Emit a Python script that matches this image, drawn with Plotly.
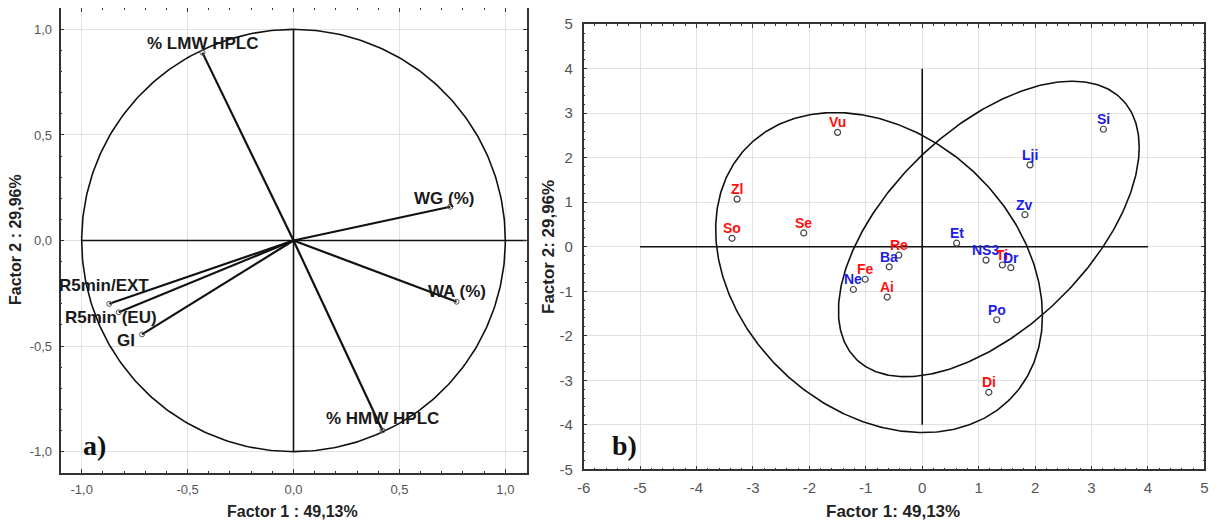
import numpy as np
import plotly.graph_objects as go

# ---------------- data: panel a) loadings ----------------
load_names = ["% LMW HPLC", "WG (%)", "WA (%)", "% HMW HPLC", "R5min/EXT", "R5min (EU)", "GI"]
load_f1 = [-0.43, 0.74, 0.77, 0.42, -0.87, -0.825, -0.715]
load_f2 = [0.89, 0.16, -0.29, -0.90, -0.30, -0.34, -0.445]

# ---------------- data: panel b) scores ----------------
score_names = ["Vu", "Si", "Lji", "Zl", "Zv", "Se", "So", "Et", "Re", "Ba",
               "Fe", "Ne", "Ai", "NS3", "Ti", "Dr", "Po", "Di"]
score_f1 = [-1.50, 3.21, 1.91, -3.28, 1.82, -2.10, -3.37, 0.61, -0.415, -0.585,
            -1.01, -1.22, -0.62, 1.13, 1.42, 1.57, 1.32, 1.18]
score_f2 = [2.57, 2.64, 1.84, 1.07, 0.72, 0.31, 0.19, 0.08, -0.19, -0.45,
            -0.73, -0.96, -1.13, -0.30, -0.41, -0.47, -1.64, -3.27]
score_group = ["r", "b", "b", "r", "b", "r", "r", "b", "r", "b",
               "r", "b", "r", "b", "r", "b", "b", "r"]

# group confidence ellipses: centre and covariance-like shape
ell_red_center = [-0.765, -0.58]
ell_red_shape = [[8.38, -2.80], [-2.80, 12.92]]
ell_blue_center = [1.18, 0.40]
ell_blue_shape = [[7.10, 4.90], [4.90, 11.02]]

x1_ticks = [-1.0, -0.5, 0.0, 0.5, 1.0]
x1_ticktext = ["-1,0", "-0,5", "0,0", "0,5", "1,0"]
y1_ticks = [-1.0, -0.5, 0.0, 0.5, 1.0]
y1_ticktext = ["-1,0", "-0,5", "0,0", "0,5", "1,0"]
x2_ticks = list(range(-6, 6))
x2_ticktext = [str(v) for v in x2_ticks]
y2_ticks = list(range(-5, 6))
y2_ticktext = [str(v) for v in y2_ticks]

CIRCLE_R = 1.0
# reference axes drawn through the origin
a_hline = [-1.0, 1.1]
a_vline = [-1.0, 1.0]
b_hline = [-5, 4]
b_vline = [-4, 4]

# ---------------- style / geometry ----------------
PAGE_W, PAGE_H = 1221, 529
BODY = 8                       # default body margin of the html page
W, H = PAGE_W - 2 * BODY, PAGE_H - 2 * BODY


def px(p):      # page x pixel -> paper fraction
    return (p - BODY) / W


def py(p):      # page y pixel -> paper fraction
    return 1 - (p - BODY) / H


INK = "#111111"
RED = "#ff1010"
BLUE = "#1c1ce6"
TICKC = "#555555"
FRAME = "#333333"
GRID = "#e2e2e2"
LABEL_FONT = "Liberation Sans, Arial, sans-serif"
# pixel offsets of the loading labels relative to their points
load_label_shift = {
    "% LMW HPLC": (0, 9), "WG (%)": (-6, 8), "WA (%)": (0, 10),
    "% HMW HPLC": (0, 12), "R5min/EXT": (-5, 18), "R5min (EU)": (-8, -5),
    "GI": (-16, -6),
}

fig = go.Figure()

# ---- panel a ----
t = np.linspace(0, 2 * np.pi, 361)
fig.add_trace(go.Scatter(x=CIRCLE_R * np.cos(t), y=CIRCLE_R * np.sin(t), mode="lines",
                         line=dict(color=INK, width=1.6), xaxis="x", yaxis="y",
                         hoverinfo="skip", showlegend=False))
fig.add_trace(go.Scatter(x=a_hline, y=[0, 0], mode="lines", line=dict(color=INK, width=1.6),
                         xaxis="x", yaxis="y", showlegend=False, hoverinfo="skip"))
fig.add_trace(go.Scatter(x=[0, 0], y=a_vline, mode="lines", line=dict(color=INK, width=1.6),
                         xaxis="x", yaxis="y", showlegend=False, hoverinfo="skip"))
for nm, fx, fy in zip(load_names, load_f1, load_f2):
    fig.add_trace(go.Scatter(x=[0, fx], y=[0, fy], mode="lines",
                             line=dict(color=INK, width=2.2), xaxis="x", yaxis="y",
                             showlegend=False, hoverinfo="skip"))
fig.add_trace(go.Scatter(x=load_f1, y=load_f2, mode="markers",
                         marker=dict(symbol="circle-open", size=5, color="#555555",
                                     line=dict(width=1)),
                         xaxis="x", yaxis="y", showlegend=False, text=load_names))
for nm, fx, fy in zip(load_names, load_f1, load_f2):
    dx, dy = load_label_shift[nm]
    fig.add_annotation(x=fx, y=fy, xref="x", yref="y", text=nm, showarrow=False,
                       xshift=dx, yshift=dy, xanchor="center", yanchor="middle",
                       font=dict(family=LABEL_FONT, size=17, color="#1a1a1a", weight="bold"))

# ---- panel b ----
def ellipse(center, shape, n=400):
    L = np.linalg.cholesky(np.array(shape))
    tt = np.linspace(0, 2 * np.pi, n)
    pts = L @ np.vstack([np.cos(tt), np.sin(tt)])
    return pts[0] + center[0], pts[1] + center[1]

for c, s in [(ell_red_center, ell_red_shape), (ell_blue_center, ell_blue_shape)]:
    ex, ey = ellipse(c, s)
    fig.add_trace(go.Scatter(x=ex, y=ey, mode="lines", line=dict(color=INK, width=1.6),
                             xaxis="x2", yaxis="y2", showlegend=False, hoverinfo="skip"))
fig.add_trace(go.Scatter(x=b_hline, y=[0, 0], mode="lines", line=dict(color=INK, width=1.6),
                         xaxis="x2", yaxis="y2", showlegend=False, hoverinfo="skip"))
fig.add_trace(go.Scatter(x=[0, 0], y=b_vline, mode="lines", line=dict(color=INK, width=1.6),
                         xaxis="x2", yaxis="y2", showlegend=False, hoverinfo="skip"))
fig.add_trace(go.Scatter(x=score_f1, y=score_f2, mode="markers",
                         marker=dict(symbol="circle-open", size=6, color="#444444",
                                     line=dict(width=1.2)),
                         xaxis="x2", yaxis="y2", showlegend=False, text=score_names))
for nm, fx, fy, g in zip(score_names, score_f1, score_f2, score_group):
    fig.add_annotation(x=fx, y=fy, xref="x2", yref="y2", text=nm, showarrow=False,
                       yshift=10, xanchor="center", yanchor="middle",
                       font=dict(family=LABEL_FONT, size=14, weight="bold",
                                 color=RED if g == "r" else BLUE))

# ---- panel letters and axis titles ----
LETTER_FONT = dict(family="Liberation Serif, Times New Roman, serif", size=28,
                   color="#111", weight="bold")
TITLE_FONT = dict(family=LABEL_FONT, size=16, color="#222", weight="bold")
TITLE_FONT2 = dict(family=LABEL_FONT, size=17, color="#222", weight="bold")
paper_texts = [
    ("a)", 94.5, 445, 0, LETTER_FONT),
    ("b)", 624.5, 445, 0, LETTER_FONT),
    ("Factor 1 : 49,13%", 292, 511, 0, TITLE_FONT),
    ("Factor 2 : 29,96%", 15, 240, -90, TITLE_FONT),
    ("Factor 1: 49,13%", 893, 511, 0, TITLE_FONT2),
    ("Factor 2: 29,96%", 549, 247, -90, TITLE_FONT2),
]
for txt, xx, yy, ang, fnt in paper_texts:
    fig.add_annotation(x=px(xx), y=py(yy), xref="paper", yref="paper", text=txt,
                       showarrow=False, xanchor="center", yanchor="middle",
                       textangle=ang, font=fnt)


def axis(domain, rng, tv, tt, minor_dtick, tickfont, standoff, anchor):
    return dict(domain=domain, range=rng, tickmode="array", tickvals=tv, ticktext=tt,
                showgrid=True, gridcolor=GRID, gridwidth=1, zeroline=False,
                showline=True, linecolor=FRAME, linewidth=1.6, mirror="allticks",
                ticks="inside", ticklen=4, tickcolor=FRAME, tickwidth=1,
                minor=dict(dtick=minor_dtick, tick0=0, ticks="inside", ticklen=2,
                           tickcolor=FRAME, showgrid=False),
                tickfont=tickfont, ticklabelstandoff=standoff, anchor=anchor,
                automargin=False, fixedrange=True)


tf1 = dict(family="Liberation Sans, Arial, sans-serif", size=13, color=TICKC)
tf2 = dict(family="Liberation Sans Narrow, Arial Narrow, Liberation Sans, sans-serif",
           size=15, color=TICKC)

fig.update_layout(
    width=W, height=H, margin=dict(l=0, r=0, t=0, b=0, autoexpand=False),
    paper_bgcolor="white", plot_bgcolor="white", showlegend=False,
    xaxis=axis([px(60.5), px(526.5)], [-1.1, 1.1], x1_ticks, x1_ticktext, 0.1, tf1, 4, "y"),
    yaxis=axis([py(472.7), py(8.3)], [-1.1, 1.1], y1_ticks, y1_ticktext, 0.1, tf1, 4, "x"),
    xaxis2=axis([px(583.6), px(1204.4)], [-6, 5], x2_ticks, x2_ticktext, 0.2, tf2, 4, "y2"),
    yaxis2=axis([py(469.3), py(24.2)], [-5, 5], y2_ticks, y2_ticktext, 0.2, tf2, 6, "x2"),
)

fig.write_html("out.html")
